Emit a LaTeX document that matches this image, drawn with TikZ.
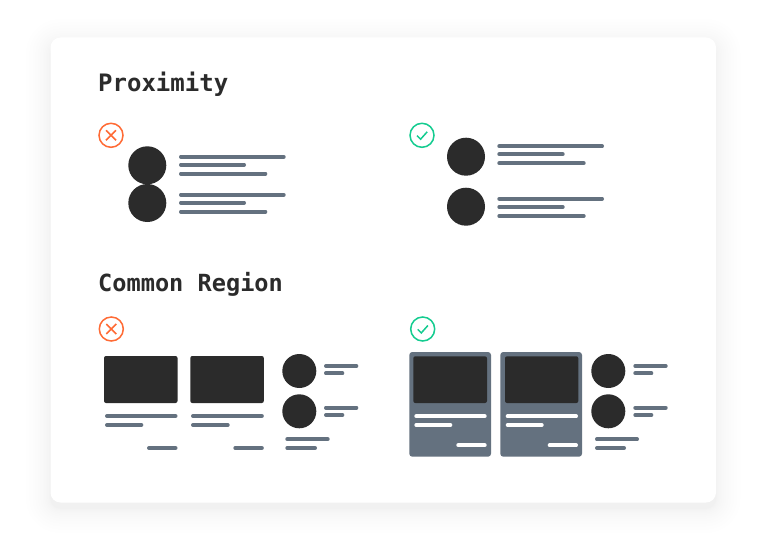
\documentclass[tikz,border=0pt]{standalone}
\usepackage{fontspec}
\setmonofont{DejaVu Sans Mono}
\definecolor{ink}{HTML}{2B2B2B}
\definecolor{slate}{HTML}{64717F}
\definecolor{bad}{HTML}{FF6B35}
\definecolor{good}{HTML}{14CC90}
\tikzset{
  heading/.style={anchor=base west,inner sep=0pt,text=ink,font=\fontsize{23.6}{28}\selectfont\ttfamily\bfseries},
  barline/.style={line width=3.8pt,line cap=round,draw=slate,shorten <=1.9pt,shorten >=1.9pt},
  whitebar/.style={barline,draw=white},
  dot/.style={fill=ink},
  darkbox/.style={fill=ink,rounded corners=2pt},
  panel/.style={fill=slate,rounded corners=3pt},
  iconring/.style={line width=1.5pt,fill=white},
  iconmark/.style={line width=1.5pt}
}
\newcommand{\hb}[3]{\draw[barline] (#1,#3) -- (#2,#3);}
\newcommand{\wb}[3]{\draw[whitebar] (#1,#3) -- (#2,#3);}
\begin{document}
\begin{tikzpicture}[x=1pt,y=-1pt]
\useasboundingbox (0,0) rectangle (767,540);
\fill[white] (0,0) rectangle (767,540);
% card shadow
\foreach \i in {14,13,...,1}{
  \pgfmathsetmacro{\g}{\i*\i/8}
  \fill[black,opacity=0.0042,rounded corners={(10+\g)*1pt}]
    (50.5-\g,37.5+6-\g) rectangle (716+\g,502.5+6+\g);
}
\fill[white,rounded corners=10pt] (50.5,37.5) rectangle (716,502.5);
% headings
\node[heading,font=\fontsize{24}{28}\selectfont\ttfamily\bfseries] (title1) at (98,91.7) {Proximity};
\node[heading] (title2) at (98,291.3) {Common Region};
% proximity: wrong
\draw[iconring,draw=bad] (111,135.3) circle (12);
\draw[iconmark,draw=bad] (106,130.3) -- (116,140.3) (116,130.3) -- (106,140.3);
\fill[dot] (147.3,165.3) circle (19);
\fill[dot] (147.3,203) circle (19);
\hb{179}{285.7}{156.7}\hb{179}{246}{164.7}\hb{179}{267.3}{173.7}
\hb{179}{285.7}{194.7}\hb{179}{246}{202.7}\hb{179}{267.3}{211.7}
% proximity: right
\draw[iconring,draw=good] (422,135.3) circle (12);
\draw[iconmark,draw=good] (417,135.6) -- (420.6,139.2) -- (427.2,131.8);
\fill[dot] (466,156.7) circle (19);
\fill[dot] (466,206.7) circle (19);
\hb{497.3}{604}{146.3}\hb{497.3}{564.7}{154.3}\hb{497.3}{585.7}{163.3}
\hb{497.3}{604}{198.7}\hb{497.3}{564.7}{207}\hb{497.3}{585.7}{216}
% common region: wrong
\draw[iconring,draw=bad] (111.3,329) circle (12);
\draw[iconmark,draw=bad] (106.3,324) -- (116.3,334) (116.3,324) -- (106.3,334);
\fill[darkbox] (104,356) rectangle (177.5,403);
\fill[darkbox] (190.3,356) rectangle (263.8,403);
\hb{105}{177.5}{416}\hb{105}{143.3}{425}\hb{147}{177.5}{448}
\hb{191}{263.8}{416}\hb{191}{229.7}{425}\hb{233.3}{263.8}{448}
\fill[dot] (299.3,371) circle (17);
\fill[dot] (299.3,411.3) circle (17);
\hb{324}{358.3}{366}\hb{324}{344.3}{373.3}
\hb{324}{358.3}{407.7}\hb{324}{344.3}{415}
\hb{285.3}{329.7}{439.3}\hb{285.3}{317}{448}
% common region: right
\draw[iconring,draw=good] (422.7,329) circle (12);
\draw[iconmark,draw=good] (417.7,329.3) -- (421.3,332.9) -- (427.9,325.5);
\fill[panel] (409.3,352) rectangle (491,456.7);
\fill[panel] (500.3,352) rectangle (582,456.7);
\fill[darkbox] (413.3,356.3) rectangle (487,403);
\fill[darkbox] (505,356.3) rectangle (578.3,403);
\wb{414.3}{486.7}{416.3}\wb{414.3}{452.3}{425}\wb{456.3}{486.7}{445.3}
\wb{505.7}{578}{416.3}\wb{505.7}{543.7}{425}\wb{547.7}{578}{445.3}
\fill[dot] (608.3,371) circle (17);
\fill[dot] (608.3,411.3) circle (17);
\hb{633.3}{667.7}{366}\hb{633.3}{653.3}{373.3}
\hb{633.3}{667.7}{407.7}\hb{633.3}{653.3}{415}
\hb{595}{639}{439.3}\hb{595}{626}{448}
\end{tikzpicture}
\end{document}
